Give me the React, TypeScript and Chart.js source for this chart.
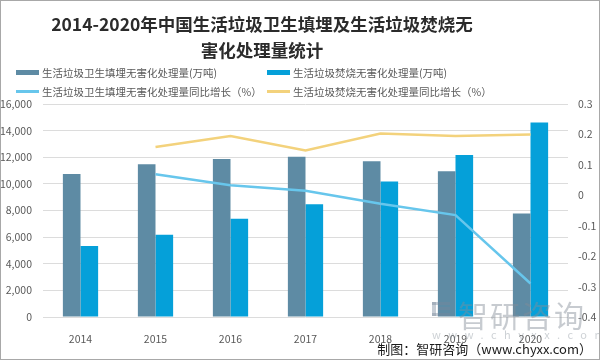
import React, { useEffect, useRef } from "react";
import { Chart, registerables } from "chart.js";

Chart.register(...registerables);

const years = ["2014", "2015", "2016", "2017", "2018", "2019", "2020"];
const landfillVolume = [10744, 11483, 11866, 12038, 11706, 10948, 7772];
const incinerationVolume = [5330, 6176, 7378, 8463, 10185, 12174, 14608];
const landfillGrowth = [null, 0.069, 0.033, 0.015, -0.028, -0.065, -0.29];
const incinerationGrowth = [null, 0.159, 0.195, 0.147, 0.203, 0.195, 0.2];

const titleLines = ["2014-2020年中国生活垃圾卫生填埋及生活垃圾焚烧无", "害化处理量统计"];
const seriesNames = [
  "生活垃圾卫生填埋无害化处理量(万吨)",
  "生活垃圾焚烧无害化处理量(万吨)",
  "生活垃圾卫生填埋无害化处理量同比增长（%）",
  "生活垃圾焚烧无害化处理量同比增长（%）",
];
const sourceText = "制图：智研咨询（www.chyxx.com）";
const watermarkName = "智研咨询";
const watermarkUrl = "www.chyxx.com";

const COLORS = ["#5e8ba4", "#05a0d9", "#67c6ec", "#f3d27c"];
const FONT = "'Noto Sans CJK SC', 'Noto Sans', sans-serif";

export default function App() {
  const canvasRef = useRef<HTMLCanvasElement | null>(null);

  useEffect(() => {
    document.body.style.margin = "0";
    const ctx = canvasRef.current!;
    const tickFont = { family: FONT, size: 10.5 };
    const chart = new Chart(ctx, {
      type: "bar",
      data: {
        labels: years,
        datasets: [
          {
            type: "line",
            label: seriesNames[2],
            data: landfillGrowth as any,
            yAxisID: "y1",
            borderColor: COLORS[2],
            backgroundColor: COLORS[2],
            borderWidth: 2.5,
            pointRadius: 0,
            tension: 0,
            order: 0,
          },
          {
            type: "line",
            label: seriesNames[3],
            data: incinerationGrowth as any,
            yAxisID: "y1",
            borderColor: COLORS[3],
            backgroundColor: COLORS[3],
            borderWidth: 2.5,
            pointRadius: 0,
            tension: 0,
            order: 0,
          },
          {
            type: "bar",
            label: seriesNames[0],
            data: landfillVolume,
            yAxisID: "y",
            backgroundColor: COLORS[0],
            categoryPercentage: 0.47,
            barPercentage: 1,
            order: 1,
          },
          {
            type: "bar",
            label: seriesNames[1],
            data: incinerationVolume,
            yAxisID: "y",
            backgroundColor: COLORS[1],
            categoryPercentage: 0.47,
            barPercentage: 1,
            order: 1,
          },
        ],
      },
      options: {
        responsive: false,
        animation: false,
        layout: { padding: { top: 104, left: 0, right: 0, bottom: 0 } },
        plugins: {
          legend: { display: false },
          title: { display: false },
          tooltip: { enabled: false },
        },
        scales: {
          x: {
            grid: { display: false },
            border: { display: false },
            ticks: { font: tickFont, color: "#595959", padding: 8 },
            afterFit: (s: any) => {
              s.height = 43;
            },
          },
          y: {
            position: "left",
            min: 0,
            max: 16000,
            ticks: { stepSize: 2000, font: tickFont, color: "#595959", padding: 11 },
            grid: { color: "#dcdcdc", drawTicks: false, lineWidth: 1 },
            border: { display: false },
            afterFit: (s: any) => {
              s.width = 43;
            },
          },
          y1: {
            position: "right",
            min: -0.4,
            max: 0.3,
            ticks: {
              stepSize: 0.1,
              font: tickFont,
              color: "#595959",
              padding: 10,
              callback: (v: any) => String(Number(Number(v).toFixed(1))),
            },
            grid: { display: false, drawTicks: false },
            border: { display: false },
            afterFit: (s: any) => {
              s.width = 32;
            },
          },
        },
      },
    } as any);
    return () => chart.destroy();
  }, []);

  const legendItem = (i: number, left: number, top: number, isLine: boolean) => (
    <div
      key={i}
      style={{
        position: "absolute",
        left,
        top,
        height: 14,
        display: "flex",
        alignItems: "center",
        fontFamily: FONT,
        fontSize: 10.5,
        color: "#595959",
        whiteSpace: "nowrap",
      }}
    >
      <span
        style={{
          display: "inline-block",
          width: 23,
          height: isLine ? 3 : 5,
          background: COLORS[i],
          marginRight: 3,
        }}
      />
      <span>{seriesNames[i]}</span>
    </div>
  );

  const wm = "rgba(120,135,155,0.42)";

  return (
    <div style={{ position: "relative", width: 600, height: 360, background: "#fff", overflow: "hidden" }}>
      <canvas
        ref={canvasRef}
        width={600}
        height={360}
        style={{ position: "absolute", left: 0, top: 0, width: 600, height: 360 }}
      />
      <div
        style={{
          position: "absolute",
          left: 0,
          top: 11,
          width: 524,
          textAlign: "center",
          fontFamily: FONT,
          fontWeight: 700,
          fontSize: 17.5,
          lineHeight: "26px",
          color: "#2b2b2b",
        }}
      >
        {titleLines.map((t, i) => (
          <div key={i}>{t}</div>
        ))}
      </div>
      {legendItem(0, 16, 65.5, false)}
      {legendItem(1, 267, 65.5, false)}
      {legendItem(2, 16, 84, true)}
      {legendItem(3, 267, 84, true)}
      {/* watermark */}
      <div style={{ position: "absolute", left: 432, top: 302, width: 18, height: 14, pointerEvents: "none" }}>
        <div style={{ position: "absolute", left: 0, top: 0, width: 18, height: 3, background: wm }} />
        <div style={{ position: "absolute", left: 0, top: 0, width: 4, height: 14, background: wm }} />
        <div style={{ position: "absolute", left: 6, top: 5, width: 12, height: 3, background: wm }} />
        <div style={{ position: "absolute", left: 0, top: 11, width: 18, height: 3, background: wm }} />
      </div>
      <div
        style={{
          position: "absolute",
          left: 458,
          top: 294,
          fontFamily: FONT,
          fontSize: 30,
          lineHeight: "40px",
          letterSpacing: 2,
          color: "rgba(130,140,150,0.45)",
          whiteSpace: "nowrap",
          pointerEvents: "none",
        }}
      >
        {watermarkName}
      </div>
      <div
        style={{
          position: "absolute",
          left: 432,
          top: 327,
          fontFamily: FONT,
          fontSize: 11,
          lineHeight: "14px",
          letterSpacing: 7.5,
          color: "rgba(130,140,150,0.4)",
          whiteSpace: "nowrap",
          pointerEvents: "none",
        }}
      >
        {watermarkUrl}
      </div>
      <div
        style={{
          position: "absolute",
          right: 8,
          top: 341,
          fontFamily: FONT,
          fontSize: 13,
          lineHeight: "16px",
          color: "#1a1a1a",
          whiteSpace: "nowrap",
        }}
      >
        {sourceText}
      </div>
      <div
        style={{
          position: "absolute",
          left: 0,
          top: 0,
          width: 600,
          height: 360,
          boxSizing: "border-box",
          border: "1.5px solid #a8a8a8",
          pointerEvents: "none",
        }}
      />
    </div>
  );
}
